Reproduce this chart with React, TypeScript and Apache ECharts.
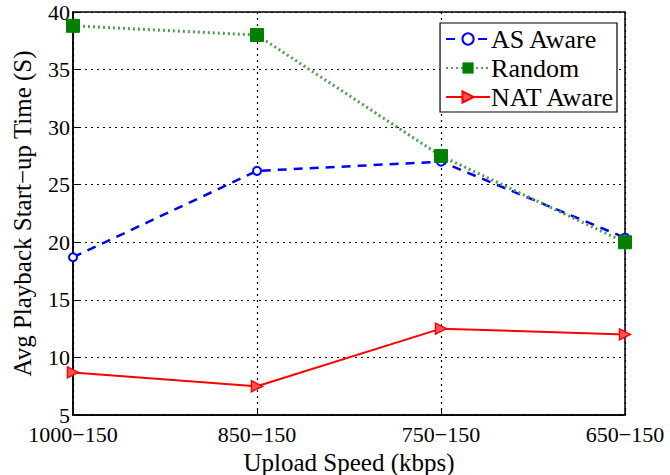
import React, { useEffect, useRef } from "react";
import * as echarts from "echarts";

const categories = ["1000−150", "850−150", "750−150", "650−150"];
const asAware = [18.7, 26.2, 27.0, 20.4];
const random = [38.8, 38.0, 27.5, 20.0];
const natAware = [8.7, 7.5, 12.5, 12.0];
const yTicks = { min: 5, max: 40, interval: 5 };

const FONT = "Liberation Serif";

export default function App() {
  const ref = useRef<HTMLDivElement>(null);
  useEffect(() => {
    const chart = echarts.init(ref.current!, null, { renderer: "svg" });
    chart.setOption({
      animation: false,
      backgroundColor: "#fff",
      textStyle: { fontFamily: FONT, color: "#000" },
      grid: {
        left: 73,
        right: 45,
        top: 12,
        bottom: 60,
        outerBoundsMode: "none",
        containLabel: false,
        show: true,
        borderColor: "#000",
        borderWidth: 1.5,
        backgroundColor: "transparent",
      },
      legend: {
        right: 53,
        top: 23,
        orient: "vertical",
        itemWidth: 44,
        itemHeight: 14,
        itemGap: 3,
        padding: [3, 2, 2, 5],
        backgroundColor: "#fff",
        borderColor: "#000",
        borderWidth: 1.2,
        textStyle: { fontFamily: FONT, fontSize: 26, color: "#000", padding: [0, 0, 0, -4] },
        data: ["AS Aware", "Random", "NAT Aware"],
      },
      xAxis: {
        type: "category",
        data: categories,
        boundaryGap: false,
        name: "Upload Speed (kbps)",
        nameLocation: "middle",
        nameGap: 32,
        nameTextStyle: { fontFamily: FONT, fontSize: 25, color: "#000" },
        axisLine: { show: true, lineStyle: { color: "#000", width: 1.5 } },
        axisTick: { show: true, inside: true, length: 6, lineStyle: { color: "#000" } },
        axisLabel: { fontFamily: FONT, fontSize: 22, color: "#000", margin: 8 },
        splitLine: { show: true, lineStyle: { color: "#000", type: [2, 4], width: 1.2 } },
      },
      yAxis: {
        type: "value",
        min: yTicks.min,
        max: yTicks.max,
        interval: yTicks.interval,
        name: "Avg Playback Start−up Time (S)",
        nameLocation: "middle",
        nameGap: 38,
        nameTextStyle: { fontFamily: FONT, fontSize: 25, color: "#000" },
        axisLine: { show: true, lineStyle: { color: "#000", width: 1.5 } },
        axisTick: { show: true, inside: true, length: 6, lineStyle: { color: "#000" } },
        axisLabel: { fontFamily: FONT, fontSize: 22, color: "#000", margin: 3 },
        splitLine: { show: true, lineStyle: { color: "#000", type: [2, 4], width: 1.2 } },
      },
      series: [
        {
          name: "AS Aware",
          type: "line",
          data: asAware,
          symbol: "emptyCircle",
          symbolSize: 8,
          lineStyle: { color: "#0000ff", width: 2.5, type: [9, 7] },
          itemStyle: { color: "#0000ff", borderColor: "#0000ff", borderWidth: 2 },
          z: 3,
        },
        {
          name: "Random",
          type: "line",
          data: random,
          symbol: "rect",
          symbolSize: 13,
          lineStyle: { color: "#4f9f4f", width: 3, type: [2, 3] },
          itemStyle: { color: "#007f00", borderColor: "#007f00" },
          z: 4,
        },
        {
          name: "NAT Aware",
          type: "line",
          data: natAware,
          symbol: "triangle",
          symbolRotate: -90,
          symbolSize: 11,
          lineStyle: { color: "#ff0000", width: 2 },
          itemStyle: { color: "#ff5555", borderColor: "#ff0000", borderWidth: 1.5 },
          z: 5,
        },
      ],
    });
    return () => chart.dispose();
  }, []);
  return (
    <div
      ref={ref}
      style={{ position: "absolute", left: 0, top: 0, width: 670, height: 475 }}
    />
  );
}
